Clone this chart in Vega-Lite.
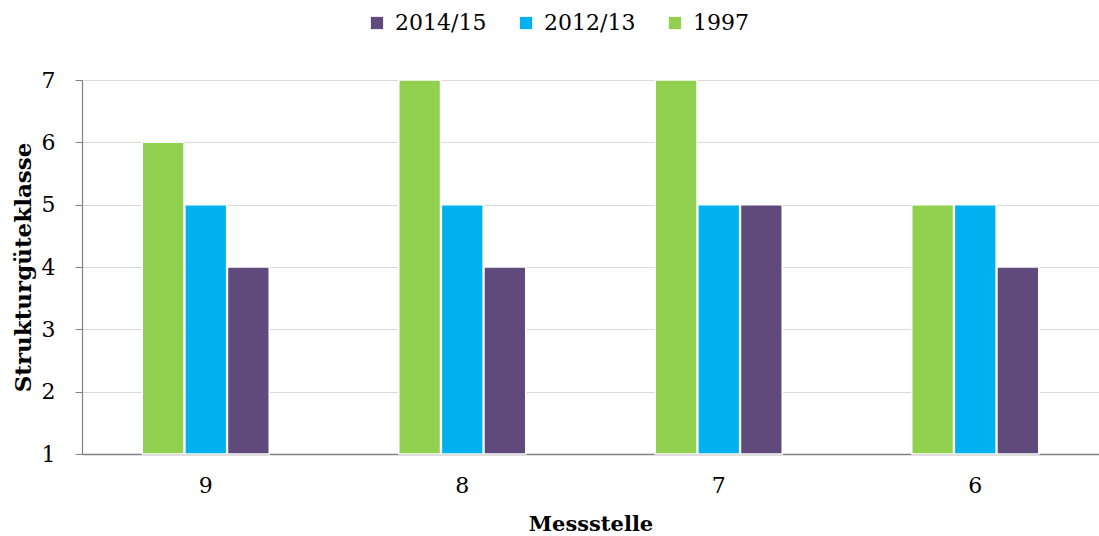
{
  "$schema": "https://vega.github.io/schema/vega-lite/v6.json",
  "width": 1099,
  "height": 536,
  "autosize": {"type": "fit", "contains": "padding"},
  "padding": {"left": 12, "top": 69, "right": 0, "bottom": 2},
  "background": "white",
  "config": {
    "font": "DejaVu Serif",
    "view": {"stroke": null}
  },
  "data": {
    "values": [
      {"Messstelle": "9", "Jahr": "1997", "Wert": 6},
      {"Messstelle": "9", "Jahr": "2012/13", "Wert": 5},
      {"Messstelle": "9", "Jahr": "2014/15", "Wert": 4},
      {"Messstelle": "8", "Jahr": "1997", "Wert": 7},
      {"Messstelle": "8", "Jahr": "2012/13", "Wert": 5},
      {"Messstelle": "8", "Jahr": "2014/15", "Wert": 4},
      {"Messstelle": "7", "Jahr": "1997", "Wert": 7},
      {"Messstelle": "7", "Jahr": "2012/13", "Wert": 5},
      {"Messstelle": "7", "Jahr": "2014/15", "Wert": 5},
      {"Messstelle": "6", "Jahr": "1997", "Wert": 5},
      {"Messstelle": "6", "Jahr": "2012/13", "Wert": 5},
      {"Messstelle": "6", "Jahr": "2014/15", "Wert": 4}
    ]
  },
  "mark": {"type": "bar", "stroke": "white", "strokeWidth": 1.5},
  "encoding": {
    "x": {
      "field": "Messstelle",
      "type": "nominal",
      "sort": ["9", "8", "7", "6"],
      "scale": {"paddingInner": 0.505, "paddingOuter": 0.235},
      "axis": {
        "title": "Messstelle",
        "titleFontSize": 21,
        "titleFontWeight": "bold",
        "titleColor": "black",
        "titlePadding": 17,
        "labelAngle": 0,
        "labelFontSize": 22,
        "labelColor": "black",
        "labelPadding": 21,
        "ticks": false,
        "domainColor": "#808080",
        "domainWidth": 1.5
      }
    },
    "xOffset": {"field": "Jahr", "type": "nominal", "sort": ["1997", "2012/13", "2014/15"], "scale": {"paddingInner": 0.02}},
    "y": {
      "field": "Wert",
      "type": "quantitative",
      "scale": {"domain": [1, 7], "zero": false, "nice": false},
      "axis": {
        "title": "Strukturgüteklasse",
        "titleFontSize": 23,
        "titleFontWeight": "bold",
        "titleColor": "black",
        "titlePadding": 6,
        "values": [1, 2, 3, 4, 5, 6, 7],
        "labelFontSize": 22,
        "labelColor": "black",
        "labelPadding": 20,
        "tickColor": "#808080",
        "tickSize": 7,
        "domainColor": "#808080",
        "domainWidth": 1.2,
        "gridColor": "#d9d9d9",
        "gridWidth": 1
      }
    },
    "y2": {"datum": 1},
    "color": {
      "field": "Jahr",
      "type": "nominal",
      "scale": {
        "domain": ["2014/15", "2012/13", "1997"],
        "range": ["#604A7B", "#00B0F0", "#92D050"]
      },
      "legend": {
        "title": null,
        "orient": "none",
        "legendX": 284,
        "legendY": -68,
        "direction": "horizontal",
        "symbolType": "square",
        "symbolSize": 150,
        "symbolStrokeWidth": 0,
        "labelFontSize": 22,
        "labelColor": "black",
        "columnPadding": 28,
        "labelOffset": 7
      }
    }
  }
}
